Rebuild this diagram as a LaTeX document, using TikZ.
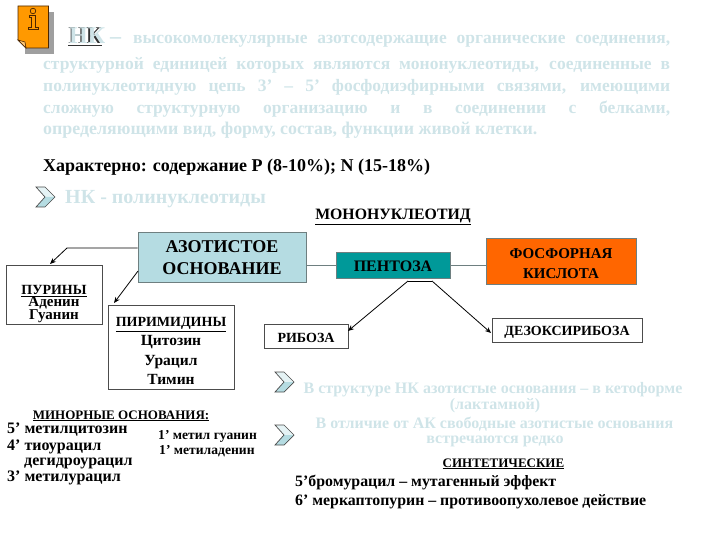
\documentclass[tikz,border=0pt]{standalone}
\usepackage{fontspec}
\setmainfont{Liberation Serif}
\definecolor{pale}{HTML}{CFE4E8}
\definecolor{boxblue}{HTML}{B5DCE2}
\definecolor{boxteal}{HTML}{009999}
\definecolor{boxorange}{HTML}{FF6600}
\definecolor{edgegrey}{HTML}{6E7F80}
\definecolor{iconorange}{HTML}{FF9900}
\usetikzlibrary{arrows.meta}
\newcommand{\fsz}[1]{\fontsize{#1}{#1}\selectfont\bfseries}
\newcommand{\strutof}[1]{\rule{0pt}{#1pt}}
\tikzset{
  x=1pt,y=-1pt,
  box/.style={draw=#1,line width=1pt,inner sep=0pt,align=center},
  box/.default=edgegrey,
  txt/.style={inner sep=0pt,anchor=base west,font=\fsz{#1}},
  ctr/.style={inner sep=0pt,anchor=base,font=\fsz{#1}},
  pale txt/.style={inner sep=0pt,anchor=base west,text=pale,font=\fsz{#1}},
  pale ctr/.style={inner sep=0pt,anchor=base,text=pale,font=\fsz{#1}},
  conn/.style={draw=black,line width=0.8pt,-{Stealth[length=6pt,width=5pt]}},
  link/.style={draw=edgegrey,line width=1pt},
  chevout/.style={draw=black!70,line width=0.7pt},
}
\newcommand{\chevron}[2]{%
  \fill[boxblue!35!white] (#1,#2) -- (#1+9,#2) -- (#1+19,#2+10) -- (#1+9,#2+10) -- cycle;
  \fill[boxblue] (#1+9,#2+10) -- (#1+19,#2+10) -- (#1+9,#2+20) -- (#1,#2+20) -- cycle;
  \draw[chevout] (#1,#2) -- (#1+9,#2) -- (#1+19,#2+10) -- (#1+9,#2+20) -- (#1,#2+20) -- (#1+9,#2+10) -- cycle;
}
\begin{document}
\begin{tikzpicture}
\useasboundingbox (0,0) rectangle (720,540);
% icon
\fill[gray!75] (25,12) -- (54,12) -- (54,54) -- (25,54) -- cycle;
\draw[draw=black!70!orange,fill=iconorange,line width=0.8pt] (18,6) -- (48.5,6) -- (48.5,48) -- (26,48) -- (18,40) -- cycle;
\draw[draw=black!70!orange,fill=iconorange!55!white,line width=0.6pt] (18,40) -- (25,42) -- (26,48) -- cycle;
\draw[draw=black!70!orange,line width=0.7pt] (33,11) circle (2.8);
\draw[draw=black!70!orange,line width=0.7pt] (29.5,15) -- (35,15) -- (35,27) -- (38,27) -- (38,29) -- (28.5,29) -- (28.5,27) -- (31.5,27) -- (31.5,17) -- (29.5,17) -- cycle;
% heading paragraph
\node[txt=24,text=black!80,font=\fontsize{24}{24}\selectfont] (hkdark) at (68,44) {\underline{НК}};
\node[txt=24,text=pale,font=\fontsize{24}{24}\selectfont\bfseries] (hk) at (69,44) {НК};
\node[pale txt=22] (dash) at (110,44) {–};
\node[pale txt=17.5] (l1) at (133,44) {\makebox[537pt][s]{высокомолекулярные азотсодержащие органические соединения,}};
\node[pale txt=17.5] (l2) at (43,70) {\makebox[627pt][s]{структурной единицей которых являются мононуклеотиды, соединенные в}};
\node[pale txt=17.5] (l3) at (43,92) {\makebox[627pt][s]{полинуклеотидную цепь 3’ – 5’ фосфодиэфирными связями, имеющими}};
\node[pale txt=17.5] (l4) at (43,114) {\makebox[627pt][s]{сложную структурную организацию и в соединении с белками,}};
\node[pale txt=17.9] (l5) at (43,135) {определяющими вид, форму, состав, функции живой клетки.};
\node[txt=18] (har) at (43,172) {Характерно: содержание Р (8-10\%); N (15-18\%)};
\chevron{36}{187}
\node[pale txt=20] (pol) at (65,204) {НК - полинуклеотиды};
\node[ctr=15.8] (mono) at (393,219) {\underline{МОНОНУКЛЕОТИД}};
% boxes
\node[box,fill=boxblue,minimum width=168pt,minimum height=50pt,font=\fontsize{18}{22}\selectfont\bfseries] (az) at (222,257.5) {АЗОТИСТОЕ\\ОСНОВАНИЕ};
\node[box,fill=boxteal,minimum width=114pt,minimum height=26pt,font=\fsz{16}] (pen) at (393,265) {\strutof{14}ПЕНТОЗА};
\node[box,fill=boxorange,minimum width=150pt,minimum height=46pt,font=\fontsize{15}{20}\selectfont\bfseries] (fos) at (561,261) {\strutof{16}ФОСФОРНАЯ\\КИСЛОТА};
\node[box,draw=black!70,fill=white,minimum width=96pt,minimum height=59pt,font=\fontsize{15}{12.5}\selectfont\bfseries] (pur) at (54,294.5) {{\fontsize{14}{12.5}\selectfont\strutof{28}\underline{ПУРИНЫ}}\\Аденин\\Гуанин};
\node[box,draw=black!70,fill=white,minimum width=126pt,minimum height=84pt,font=\fontsize{15.5}{19.3}\selectfont\bfseries] (pir) at (171,347) {{\fontsize{14}{19.3}\selectfont\strutof{17}\underline{ПИРИМИДИНЫ}}\\Цитозин\\Урацил\\Тимин};
\node[box,draw=black!70,fill=white,minimum width=84pt,minimum height=24pt,font=\fsz{14}] (rib) at (306,336.5) {\strutof{12}РИБОЗА};
\node[box,draw=black!70,fill=white,minimum width=150pt,minimum height=24pt,font=\fsz{14}] (dez) at (567,330) {\strutof{14}ДЕЗОКСИРИБОЗА};
% connectors
\draw[link] (az.east |- pen.west) -- (pen.west);
\draw[link] (pen.east) -- (fos.west |- pen.east);
\coordinate (a1) at (67,248);
\coordinate (a2) at (50,264);
\coordinate (a3) at (138,271);
\coordinate (a4) at (114,303);
\draw[conn] (az.west |- a1) -- (a1) -- (a2);
\draw[conn] (a3) -- (a4);
\coordinate (pl) at (408,281);
\coordinate (pr) at (432,281);
\coordinate (tr) at (348,331);
\coordinate (td) at (491,333);
\draw[line width=0.8pt] (pl) -- (pr);
\draw[conn] (pl) -- (tr);
\draw[conn] (pr) -- (td);
% minor
\node[ctr=13] (min) at (121,419) {\underline{МИНОРНЫЕ ОСНОВАНИЯ:}};
\node[txt=16] (m1) at (7,433) {5’ метилцитозин};
\node[txt=16] (m2) at (7,450) {4’ тиоурацил};
\node[txt=16] (m3) at (24,465) {дегидроурацил};
\node[txt=16] (m4) at (7,481) {3’ метилурацил};
\node[txt=13.6] (m5) at (158,439) {1’ метил гуанин};
\node[txt=13.6] (m6) at (159,454) {1’ метиладенин};
% notes
\chevron{275}{372}
\chevron{275}{425}
\node[pale ctr=16] (n1) at (493,393) {В структуре НК азотистые основания – в кетоформе};
\node[pale ctr=16] (n2) at (495,409) {(лактамной)};
\node[pale ctr=16] (n3) at (494.5,428) {В отличие от АК свободные азотистые основания};
\node[pale ctr=16] (n4) at (495,443) {встречаются редко};
\node[ctr=13] (s) at (503.5,467) {\underline{СИНТЕТИЧЕСКИЕ}};
\node[txt=15.85] (s1) at (295,486) {5’бромурацил – мутагенный эффект};
\node[txt=15.85] (s2) at (295,505) {6’ меркаптопурин – противоопухолевое действие};
\end{tikzpicture}
\end{document}
